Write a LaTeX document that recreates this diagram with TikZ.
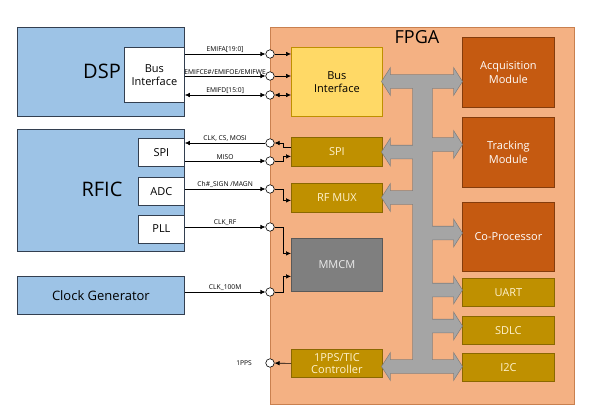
\documentclass[tikz,border=0pt]{standalone}
\usepackage{fontspec}
\setmainfont{Open Sans}
\usepackage{tikz}
\usetikzlibrary{arrows.meta, positioning}
\definecolor{hostblue}{HTML}{9DC3E6}
\definecolor{hostedge}{HTML}{333F50}
\definecolor{fpgafill}{HTML}{F4B183}
\definecolor{fpgaedge}{HTML}{C9804F}
\definecolor{busyellow}{HTML}{FFD966}
\definecolor{gold}{HTML}{BF9000}
\definecolor{goldedge}{HTML}{8A6800}
\definecolor{goldtext}{HTML}{FFF2CC}
\definecolor{rust}{HTML}{C55A11}
\definecolor{rustedge}{HTML}{843C0C}
\definecolor{mmcmgray}{HTML}{7F7F7F}
\definecolor{busgray}{HTML}{A5A5A5}
\definecolor{busedge}{HTML}{7F7F7F}
\tikzstyle{arrow} = [-{Latex[length=5pt,width=4.5pt]}, line width=0.6pt]
\tikzstyle{biarrow} = [{Latex[length=5pt,width=4.5pt]}-{Latex[length=5pt,width=4.5pt]}, line width=0.6pt]
\tikzstyle{hostbox} = [rectangle, draw=hostedge, fill=hostblue, line width=0.8pt, anchor=north west, minimum width=167pt]
\tikzstyle{subbox} = [rectangle, draw=hostedge, fill=white, line width=0.8pt, anchor=north west, align=center, font=\fontsize{11}{13}\selectfont]
\tikzstyle{fpgabox} = [rectangle, draw=fpgaedge, fill=fpgafill, line width=0.8pt, anchor=north west]
\tikzstyle{ifbox} = [rectangle, draw=gold, fill=busyellow, line width=0.8pt, anchor=north west, minimum width=91pt, align=center, font=\fontsize{11}{13}\selectfont]
\tikzstyle{periph} = [rectangle, draw=goldedge, fill=gold, text=goldtext, line width=0.8pt, anchor=north west, minimum width=92pt, align=center, font=\fontsize{11}{12}\selectfont]
\tikzstyle{core} = [rectangle, draw=rustedge, fill=rust, text=white, line width=0.8pt, anchor=north west, minimum width=92pt, minimum height=70pt, align=center, font=\fontsize{11}{14}\selectfont]
\tikzstyle{port} = [circle, draw=black, fill=white, line width=0.6pt, inner sep=0pt, minimum size=8.5pt]
\tikzstyle{sig} = [above, font=\fontsize{6.7}{7.5}\selectfont, inner sep=1.5pt]
\newcommand\busr[1]{(432,#1-6.5) -- (454,#1-6.5) -- (454,#1-12.5) -- (462,#1) -- (454,#1+12.5) -- (454,#1+6.5) -- (432,#1+6.5) -- cycle}
\newcommand\busl[1]{(413,#1-6.5) -- (390,#1-6.5) -- (390,#1-12.5) -- (382,#1) -- (390,#1+12.5) -- (390,#1+6.5) -- (413,#1+6.5) -- cycle}
\newcommand\busshape{(413,75) rectangle (432,373)
  \busl{81.5} \busl{152} \busl{197.5} \busl{366.5}
  \busr{81.5} \busr{144.5} \busr{233} \busr{290} \busr{326} \busr{366.5}}

\begin{document}
\begin{tikzpicture}[x=1pt, y=-1pt]
  \useasboundingbox (0,0) rectangle (595,413);

  % Host side
  \node (dsp) [hostbox, minimum height=89pt] at (17,27) {};
  \node (dsptext) at (102,71) {\fontsize{20}{22}\selectfont DSP};
  \node (dspbus) [subbox, minimum width=60pt, minimum height=55pt] at (124,47) {Bus\\Interface};

  \node (rfic) [hostbox, minimum height=122pt] at (17,129) {};
  \node (rfictext) at (102,189) {\fontsize{20}{22}\selectfont RFIC};
  \node (rspi) [subbox, minimum width=46pt, minimum height=28pt] at (138,138) {SPI};
  \node (radc) [subbox, minimum width=46pt, minimum height=28pt, below=10pt of rspi] {ADC};
  \node (rpll) [subbox, minimum width=46pt, minimum height=28pt, below=9pt of radc] {PLL};

  \node (clkgen) [hostbox, minimum height=38pt, font=\fontsize{13}{15}\selectfont] at (17,276) {Clock Generator};

  % FPGA
  \node (fpga) [fpgabox, minimum width=304pt, minimum height=377pt] at (270,27) {};
  \node (fpgatext) at (417,37) {\fontsize{18}{20}\selectfont FPGA};
  \node (fbus) [ifbox, minimum height=69pt] at (291,47) {Bus\\Interface};
  \node (fspi) [periph, minimum width=91pt, minimum height=29pt] at (291,137) {SPI};
  \node (fmux) [periph, minimum width=91pt, minimum height=29pt] at (291,183) {RF MUX};
  \node (fmmcm) [rectangle, draw=black!65, fill=mmcmgray, text=white!92!black, line width=0.8pt, anchor=north west, minimum width=91pt, minimum height=53pt, font=\fontsize{11}{13}\selectfont] at (291,238) {MMCM};
  \node (fpps) [periph, minimum width=91pt, minimum height=28pt, font=\fontsize{11}{11.5}\selectfont] at (291,349) {1PPS/TIC\\Controller};

  \node (acq) [core] at (462,37) {Acquisition\\Module};
  \node (trk) [core, below=9pt of acq] {Tracking\\Module};
  \node (cop) [core, minimum height=69pt, below=14pt of trk] {Co-Processor};
  \node (uart) [periph, minimum height=28pt, below=7pt of cop] {UART};
  \node (sdlc) [periph, minimum height=28pt, below=9pt of uart] {SDLC};
  \node (i2c) [periph, minimum height=28pt, below=8pt of sdlc] {I2C};

  % Bus
  \filldraw[busedge, line width=1.4pt, line join=miter] \busshape;
  \fill[busgray] \busshape;

  % Ports
  \node (pa) [port] at (270,54) {};
  \node (pb) [port] at (270,76) {};
  \node (pc) [port] at (270,95) {};
  \node (pmosi) [port] at (270,143) {};
  \node (pmiso) [port] at (270,161) {};
  \node (padc) [port] at (270,189) {};
  \node (ppll) [port] at (270,227) {};
  \node (pclk) [port] at (270,292) {};
  \node (ppps) [port] at (270,363) {};
  \node (ppslabel) [left=10pt of ppps, font=\fontsize{6.7}{7.5}\selectfont] {1PPS};

  % Signals
  \draw[arrow] (dspbus.east |- pa) -- node[sig] {EMIFA[19:0]} (pa);
  \draw[arrow] (dspbus.east |- pb) -- node[sig] {EMIFCE\#/EMIFOE/EMIFWE} (pb);
  \draw[biarrow] (dspbus.east |- pc) -- node[sig] {EMIFD[15:0]} (pc);
  \draw[arrow] (pa) -- (fbus.west |- pa);
  \draw[arrow] (pb) -- (fbus.west |- pb);
  \draw[biarrow] (pc) -- (fbus.west |- pc);

  \draw[arrow] (pmosi) -- node[sig] {CLK, CS, MOSI} (rspi.east |- pmosi);
  \draw[arrow] (rspi.east |- pmiso) -- node[sig] {MISO} (pmiso);
  \draw[arrow] (radc.east |- padc) -- node[sig] {Ch\#\_SIGN /MAGN} (padc);
  \draw[arrow] (rpll.east |- ppll) -- node[sig] {CLK\_RF} (ppll);
  \draw[arrow] (clkgen.east |- pclk) -- node[sig] {CLK\_100M} (pclk);

  \draw[arrow] ([yshift=4.5pt]fspi.west) -- ++(-8,0) |- (pmosi);
  \draw[arrow] (pmiso.east) -- ++(9,0) |- ([yshift=-4.5pt]fspi.west);
  \draw[arrow] (padc.east) -- ++(9,0) |- ([yshift=-2.5pt]fmux.west);
  \draw[arrow] (ppll.east) -- ++(9,0) |- ([yshift=11.5pt]fmmcm.west);
  \draw[arrow] (pclk.east) -- ++(9,0) |- ([yshift=-11.5pt]fmmcm.west);
  \draw[arrow] (fpps.west) -- (ppps);

\end{tikzpicture}
\end{document}
